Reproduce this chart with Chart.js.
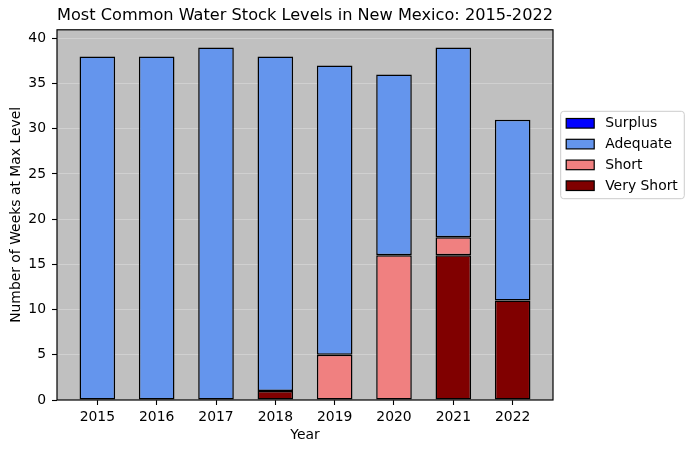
<!DOCTYPE html>
<html>
<head>
<meta charset="utf-8">
<script src="https://cdn.jsdelivr.net/npm/chart.js@4.4.1/dist/chart.umd.min.js"></script>
<style>
  html, body { margin: 0; padding: 0; background: #fff; }
  #wrap { width: 692px; height: 453px; }
</style>
</head>
<body>
<div id="wrap"><canvas id="waterChart" width="692" height="453"></canvas></div>
<script>
// data (weeks per year)
const years = ['2015', '2016', '2017', '2018', '2019', '2020', '2021', '2022'];
const veryShort = [0, 0, 0, 1, 0, 0, 16, 11];
const shortWeeks = [0, 0, 0, 0, 5, 16, 2, 0];
const adequate = [38, 38, 39, 37, 32, 20, 21, 20];
const surplus = [0, 0, 0, 0, 0, 0, 0, 0];
const yTicks = [0, 5, 10, 15, 20, 25, 30, 35, 40];

const toPoints = arr => arr.map((v, i) => ({ x: i, y: v }));

Chart.defaults.font.family = "'DejaVu Sans', sans-serif";
Chart.defaults.font.size = 13.9;
Chart.defaults.color = '#000';

// grey plot background + black frame round the axes
const plotFrame = {
    id: 'plotFrame',
    beforeDraw(chart) {
        const { ctx, chartArea: a } = chart;
        ctx.save();
        ctx.fillStyle = '#c0c0c0';
        ctx.fillRect(a.left, a.top, a.right - a.left, a.bottom - a.top);
        ctx.restore();
    },
    afterDatasetsDraw(chart) {
        const { ctx, chartArea: a } = chart;
        ctx.save();
        ctx.strokeStyle = '#000';
        ctx.lineWidth = 1.2;
        ctx.strokeRect(a.left, a.top, a.right - a.left, a.bottom - a.top);
        ctx.restore();
    }
};

// legend outside the axes, on the right, matplotlib style
const sideLegend = {
    id: 'sideLegend',
    afterDraw(chart) {
        const { ctx, chartArea: a } = chart;
        const sets = chart.data.datasets.slice().reverse();
        ctx.save();
        ctx.font = "13.9px 'DejaVu Sans', sans-serif";
        let textW = 0;
        sets.forEach(ds => { textW = Math.max(textW, ctx.measureText(ds.label).width); });
        const left = a.right + 7.7;
        const top = a.top + 81.5;
        const rowH = 20.8;
        const w = 5.5 + 28 + 11 + textW + 6.5;
        const h = 12 + rowH * (sets.length - 1) + 13;

        ctx.beginPath();
        ctx.roundRect(left, top, w, h, 3);
        ctx.fillStyle = 'rgba(255,255,255,0.8)';
        ctx.fill();
        ctx.strokeStyle = '#cccccc';
        ctx.lineWidth = 1;
        ctx.stroke();

        ctx.textBaseline = 'middle';
        sets.forEach((ds, i) => {
            const cy = top + 12 + i * rowH;
            ctx.fillStyle = ds.backgroundColor;
            ctx.fillRect(left + 5.5, cy - 4.8, 28, 9.6);
            ctx.strokeStyle = '#000';
            ctx.lineWidth = 1.2;
            ctx.strokeRect(left + 5.5, cy - 4.8, 28, 9.6);
            ctx.fillStyle = '#000';
            ctx.fillText(ds.label, left + 5.5 + 28 + 11, cy + 0.5);
        });
        ctx.restore();
    }
};

const barStyle = {
    borderColor: '#000',
    borderWidth: 1.5,
    borderSkipped: false,
    barPercentage: 0.6,
    categoryPercentage: 1.0
};

new Chart(document.getElementById('waterChart'), {
    type: 'bar',
    data: {
        datasets: [
            Object.assign({ label: 'Very Short', data: toPoints(veryShort), backgroundColor: '#800000' }, barStyle),
            Object.assign({ label: 'Short', data: toPoints(shortWeeks), backgroundColor: '#f08080' }, barStyle),
            Object.assign({ label: 'Adequate', data: toPoints(adequate), backgroundColor: '#6495ed' }, barStyle),
            Object.assign({ label: 'Surplus', data: toPoints(surplus), backgroundColor: '#0000ff' }, barStyle)
        ]
    },
    options: {
        responsive: false,
        animation: false,
        layout: { padding: { right: 139 } },
        plugins: {
            legend: { display: false },
            tooltip: { enabled: false },
            title: {
                display: true,
                fullSize: false,
                text: 'Most Common Water Stock Levels in New Mexico: 2015-2022',
                font: { size: 16.5, weight: 'normal' },
                padding: { top: 6, bottom: 4 }
            }
        },
        scales: {
            x: {
                type: 'linear',
                stacked: true,
                offset: false,
                min: -0.68,
                max: 7.68,
                afterBuildTicks: scale => { scale.ticks = years.map((_, i) => ({ value: i })); },
                afterFit: scale => { scale.height = 53; },
                ticks: { callback: v => years[v], padding: 4, maxRotation: 0 },
                grid: { offset: false, drawOnChartArea: false, drawTicks: true, tickLength: 5, tickColor: '#000', tickWidth: 1.1 },
                border: { display: false },
                title: { display: true, text: 'Year', padding: { top: 0, bottom: 9.7 } }
            },
            y: {
                stacked: true,
                min: 0,
                max: 40.95,
                afterBuildTicks: scale => { scale.ticks = yTicks.map(v => ({ value: v })); },
                afterFit: scale => { scale.width = 57; },
                ticks: { padding: 6 },
                grid: { color: 'rgba(255,255,255,0.25)', lineWidth: 1, tickLength: 5, tickColor: '#000', tickWidth: 1.1 },
                border: { display: false },
                title: { display: true, text: 'Number of Weeks at Max Level', padding: { top: 7.7, bottom: 0 } }
            }
        }
    },
    plugins: [plotFrame, sideLegend]
});
</script>
</body>
</html>
